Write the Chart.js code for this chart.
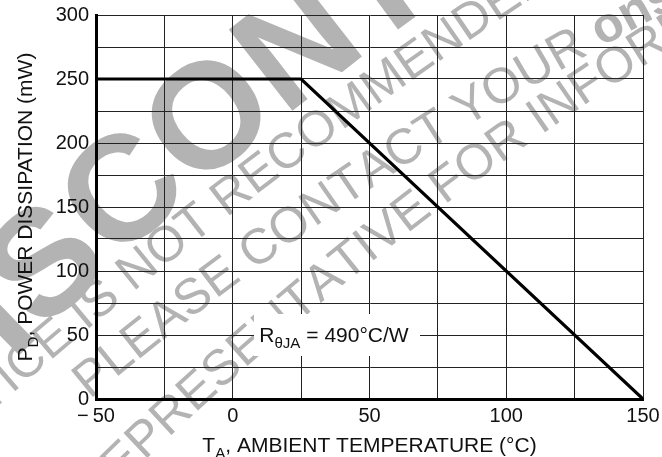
<!DOCTYPE html>
<html>
<head>
<meta charset="utf-8">
<script src="https://cdn.jsdelivr.net/npm/chart.js@4.4.1/dist/chart.umd.min.js"></script>
<style>
  html, body { margin: 0; padding: 0; background: #fff; }
  #wrap { width: 662px; height: 457px; }
</style>
</head>
<body>
<div id="wrap"><canvas id="myChart" width="662" height="457"></canvas></div>
<script>
// Power derating curve.
const tempC = [-50, 25, 150];
const powerMW = [250, 250, 0];
const xTickLabels = [-50, 0, 50, 100, 150];
const yTickLabels = [0, 50, 100, 150, 200, 250, 300];
const thetaLabelAt = { x: 37, y: 50 }; // where the R(theta)JA note sits, in data units

const FONT = "'Liberation Sans', Arial, Helvetica, sans-serif";
const WM_GREY = "#b3b3b3";

// watermark lines, laid out from an anchor character (drawn behind the grid)
// bend: lines curve slightly (rad per px)
const watermark = [
  { text: "DISCONTINUED", bold: 12, anchor: 4, x: 195, y: 192, deg: -40, bend: 0.0003, size: 150 },
  { text: "NOTICE IS NOT RECOMMENDED FOR NEW DESIGN", bold: 0, anchor: 10, x: 133, y: 292, deg: -39, bend: 0.0002, size: 50 },
  { text: "PLEASE CONTACT YOUR onsemi", bold: 6, anchor: 3, x: 163, y: 340, deg: -38, bend: 0.0003, size: 50 },
  { text: "REPRESENTATIVE FOR INFORMATION", bold: 0, anchor: 8, x: 297, y: 323, deg: -40, bend: 0.0003, size: 50 },
];

// the last `bold` characters of a watermark line are bold
function wmFont(w, i) {
  const b = i >= w.text.length - w.bold;
  return (b ? "bold " : "") + w.size + "px " + FONT;
}

function drawWatermarkLine(ctx, w) {
  const a0 = w.deg * Math.PI / 180;
  const put = (ch, i, x, y, a) => {
    ctx.save();
    ctx.translate(x, y);
    ctx.rotate(a);
    ctx.font = wmFont(w, i);
    ctx.fillText(ch, 0, 0);
    ctx.restore();
  };
  ctx.textAlign = "left";
  ctx.textBaseline = "alphabetic";
  // forward from the anchor
  let x = w.x, y = w.y, a = a0;
  for (let i = w.anchor; i < w.text.length; i++) {
    ctx.font = wmFont(w, i);
    const cw = ctx.measureText(w.text[i]).width;
    put(w.text[i], i, x, y, a);
    x += cw * Math.cos(a);
    y += cw * Math.sin(a);
    a += w.bend * cw;
  }
  // backward from the anchor
  x = w.x; y = w.y; a = a0;
  for (let i = w.anchor - 1; i >= 0; i--) {
    ctx.font = wmFont(w, i);
    const cw = ctx.measureText(w.text[i]).width;
    a -= w.bend * cw;
    x -= cw * Math.cos(a);
    y -= cw * Math.sin(a);
    put(w.text[i], i, x, y, a);
  }
}

// draws text runs with optional subscripts, centered on x=0 at the current transform
function drawRuns(ctx, runs, size) {
  let w = 0;
  const parts = runs.map(r => {
    const s = r.sub ? size * 0.72 : size;
    ctx.font = s + "px " + FONT;
    const m = ctx.measureText(r.t).width;
    w += m;
    return { r, s, m };
  });
  let x = -w / 2;
  ctx.textAlign = "left";
  ctx.textBaseline = "alphabetic";
  parts.forEach(p => {
    ctx.font = p.s + "px " + FONT;
    ctx.fillText(p.r.t, x, p.r.sub ? size * 0.3 : 0);
    x += p.m;
  });
  return w;
}

function runsWidth(ctx, runs, size) {
  return runs.reduce((sum, r) => {
    ctx.font = (r.sub ? size * 0.72 : size) + "px " + FONT;
    return sum + ctx.measureText(r.t).width;
  }, 0);
}

const decorations = {
  id: "decorations",
  beforeDraw(chart) {
    const ctx = chart.ctx;
    ctx.save();
    ctx.fillStyle = "#fff";
    ctx.fillRect(0, 0, chart.width, chart.height);
    ctx.fillStyle = WM_GREY;
    watermark.forEach(w => drawWatermarkLine(ctx, w));
    ctx.restore();
  },
  afterDraw(chart) {
    const ctx = chart.ctx;
    const area = chart.chartArea;
    const xs = chart.scales.x, ys = chart.scales.y;
    ctx.save();
    ctx.fillStyle = "#111";

    // x axis title
    ctx.save();
    ctx.translate((area.left + area.right) / 2, 452);
    drawRuns(ctx, [{ t: "T" }, { t: "A", sub: true }, { t: ", AMBIENT TEMPERATURE (\u00B0C)" }], 21);
    ctx.restore();

    // y axis title
    ctx.save();
    ctx.translate(32, (area.top + area.bottom) / 2);
    ctx.rotate(-Math.PI / 2);
    drawRuns(ctx, [{ t: "P" }, { t: "D", sub: true }, { t: ", POWER DISSIPATION (mW)" }], 21);
    ctx.restore();

    // thermal resistance note on a white box
    const cx = xs.getPixelForValue(thetaLabelAt.x);
    const cy = ys.getPixelForValue(thetaLabelAt.y);
    const runs = [{ t: "R" }, { t: "\u03B8JA", sub: true }, { t: " = 490\u00B0C/W" }];
    const tw = runsWidth(ctx, runs, 21);
    ctx.fillStyle = "#fff";
    ctx.fillRect(Math.round(cx - tw / 2 - 5), Math.round(cy - 21), Math.round(tw + 17), 42);
    ctx.fillStyle = "#111";
    ctx.translate(cx, cy + 7);
    drawRuns(ctx, runs, 21);
    ctx.restore();
  }
};

const canvas = document.getElementById("myChart");
new Chart(canvas, {
  type: "line",
  data: {
    datasets: [{
      data: tempC.map((t, i) => ({ x: t, y: powerMW[i] })),
      borderColor: "#000",
      borderWidth: 3.2,
      pointRadius: 0,
      tension: 0,
      fill: false,
    }],
  },
  options: {
    responsive: false,
    animation: false,
    devicePixelRatio: 1,
    layout: { padding: { top: 15, right: 19, bottom: 0, left: 0 } },
    plugins: { legend: { display: false }, tooltip: { enabled: false } },
    scales: {
      x: {
        type: "linear",
        min: -50,
        max: 150,
        ticks: {
          stepSize: 25,
          autoSkip: false,
          maxRotation: 0,
          padding: 0,
          color: "#111",
          font: { family: FONT, size: 20 },
          callback: v => xTickLabels.includes(v) ? (v < 0 ? "\u2212\u2009" + Math.abs(v) : String(v)) : "",
        },
        grid: { color: "#222", lineWidth: 1, drawTicks: true, tickLength: 5, tickColor: "rgba(0,0,0,0)" },
        border: { color: "#000", width: 3 },
        afterFit: s => { s.height = 58; },
      },
      y: {
        min: 0,
        max: 300,
        ticks: {
          stepSize: 25,
          autoSkip: false,
          padding: 0,
          color: "#111",
          font: { family: FONT, size: 20 },
          callback: v => yTickLabels.includes(v) ? String(v) : "",
        },
        grid: { color: "#222", lineWidth: 1, drawTicks: true, tickLength: 7, tickColor: "rgba(0,0,0,0)" },
        border: { color: "#000", width: 3 },
        afterFit: s => { s.width = 96; },
      },
    },
  },
  plugins: [decorations],
});
</script>
</body>
</html>
